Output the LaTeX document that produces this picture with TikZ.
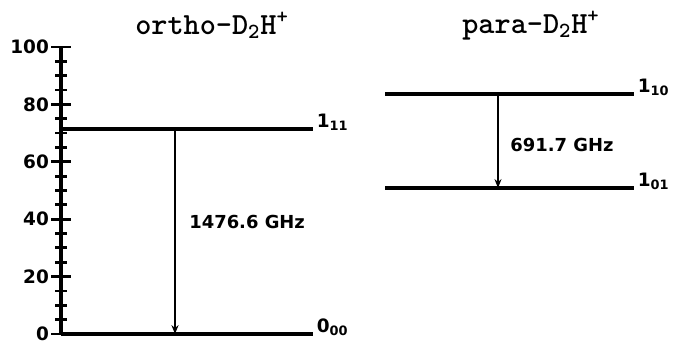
\documentclass[tikz,border=0pt]{standalone}
\usepackage{fontspec}
\setsansfont{DejaVu Sans}
\usetikzlibrary{arrows.meta}
\tikzset{level/.style={black,line width=2pt},
  trans/.style={black,line width=0.8pt,-{Stealth[length=5pt,width=4pt]}},
  ticklab/.style={font=\sffamily\bfseries\fontsize{10.5}{12}\selectfont,anchor=east,inner sep=1pt},
  freq/.style={font=\sffamily\bfseries\fontsize{10.2}{12}\selectfont,anchor=west,inner sep=0pt},
  statelab/.style={font=\sffamily\bfseries\fontsize{10.5}{12}\selectfont,anchor=base west,inner sep=1pt},
  title/.style={font=\ttfamily\bfseries\fontsize{17.5}{20}\selectfont,inner sep=0pt}}

\begin{document}
\begin{tikzpicture}[x=0.02cm,y=0.0574cm]
  \useasboundingbox (0,-4.53) rectangle (691,116.38);
  % axis
  \draw[black,line width=2pt] (61,0) -- (61,100);
  \foreach \v in {0,20,...,100}{
    \draw[black,line width=1.6pt] (51,\v) -- (71,\v);
    \node[ticklab] (t\v) at (51,\v) {\v};
  }
  \foreach \v in {5,10,15,25,30,35,45,50,55,65,70,75,85,90,95}
    \draw[black,line width=1.6pt] (55,\v) -- (67,\v);
  % ortho levels
  \coordinate (o0L) at (61,0);
  \coordinate (o0R) at (313,0);
  \coordinate (o1L) at (61,71.4);
  \coordinate (o1R) at (313,71.4);
  \coordinate (oup) at (175,71.4);
  \coordinate (odn) at (175,0);
  \draw[level] (o0L) -- (o0R);
  \draw[level] (o1L) -- (o1R);
  \draw[trans] (oup) -- (odn);
  \node[statelab] (s111) at ([xshift=1pt,yshift=1pt]o1R) {1\textsubscript{11}};
  \node[statelab] (s000) at ([xshift=1pt,yshift=1pt]o0R) {0\textsubscript{00}};
  \node[freq] (fo) at (189,39) {1476.6 GHz};
  % para levels
  \coordinate (p1L) at (385,83.6);
  \coordinate (p1R) at (634,83.6);
  \coordinate (p0L) at (385,50.9);
  \coordinate (p0R) at (634,50.9);
  \coordinate (pup) at (498,83.6);
  \coordinate (pdn) at (498,50.9);
  \draw[level] (p1L) -- (p1R);
  \draw[level] (p0L) -- (p0R);
  \draw[trans] (pup) -- (pdn);
  \node[statelab] (s110) at ([xshift=1pt,yshift=1pt]p1R) {1\textsubscript{10}};
  \node[statelab] (s101) at ([xshift=1pt,yshift=1pt]p0R) {1\textsubscript{01}};
  \node[freq] (fp) at (510,65.9) {691.7 GHz};
  % titles
  \node[title] (ortho) at (212,107.5) {ortho-D\textsubscript{2}H\textsuperscript{+}};
  \node[title] (para) at (531,107.5) {para-D\textsubscript{2}H\textsuperscript{+}};
\end{tikzpicture}
\end{document}
